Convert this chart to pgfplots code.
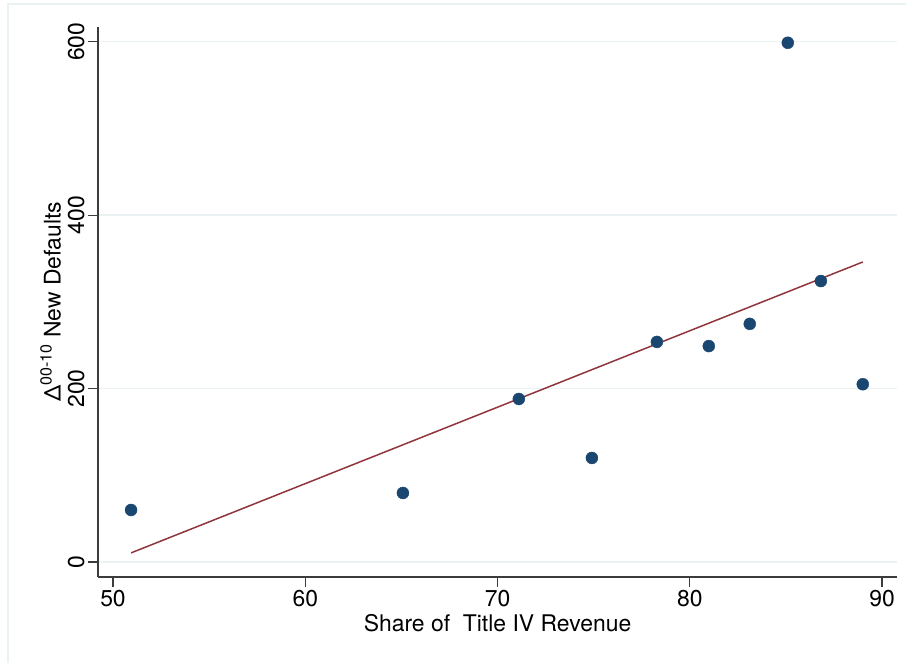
\documentclass[border=0pt]{standalone}
\usepackage{fontspec}
\setmainfont{TeX Gyre Heros}
\usepackage{pgfplots}
\pgfplotsset{compat=1.18}
\definecolor{stnavy}{HTML}{1A476F}
\definecolor{stmaroon}{HTML}{90353B}
\definecolor{stgrid}{HTML}{EAF2F3}
\definecolor{staxis}{HTML}{3C3C3C}
\begin{document}
\begin{tikzpicture}[x=1bp,y=1bp]
\useasboundingbox (-98,-86) rectangle (808,577);
\draw[stgrid, line width=1.2bp] (-90,-86) -- (-90,573) -- (808,573);
\begin{axis}[
  at={(0,0)}, anchor=south west,
  width=799bp, height=550bp, scale only axis,
  xmin=49.22, xmax=90.78, ymin=-17.3, ymax=617,
  axis x line*=bottom, axis y line*=left,
  axis line style={staxis, line width=1.5bp, -},
  xtick={50,60,70,80,90}, ytick={0,200,400,600},
  tick align=outside, major tick length=10bp,
  tick style={staxis, line width=1.2bp},
  ymajorgrids, grid style={stgrid, line width=1.5bp},
  tick label style={font=\fontsize{23}{27}\selectfont},
  /pgf/number format/assume math mode=true,
  yticklabel style={rotate=90, anchor=south},
  xlabel={Share of\ \ Title IV Revenue},
  ylabel={Δ\textsuperscript{00-10} New Defaults},
  label style={font=\fontsize{23}{27}\selectfont},
]
\addplot[only marks, mark=*, mark size=6bp, mark options={draw=stnavy, fill=stnavy}] coordinates {
  (50.94,60) (65.08,79.6) (71.11,188) (74.91,120) (78.29,253.8)
  (80.99,249) (83.12,274.6) (85.10,598.8) (86.82,324) (89.0,205)
};
\addplot[stmaroon, line width=1.5bp] coordinates {(50.94,10.5) (89.0,346)};
\end{axis}
\end{tikzpicture}
\end{document}
